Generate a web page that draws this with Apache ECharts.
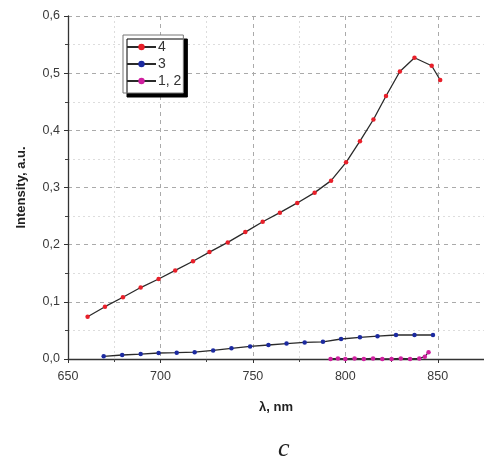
<!DOCTYPE html>
<html><head><meta charset="utf-8">
<script src="https://cdn.jsdelivr.net/npm/echarts@6/dist/echarts.min.js"></script>
<style>html,body{margin:0;padding:0;background:#fff}#c{width:484px;height:468px}</style>
</head><body><div id="c"></div>
<script>
const s4x = [660.6,670,679.7,689.3,699,708,717.6,726.5,736.4,745.9,755.3,764.6,774,783.4,792.3,800.4,807.9,815.2,822,829.5,837.4,846.7,851.3];
const s4y = [0.074,0.0915,0.108,0.125,0.140,0.155,0.171,0.187,0.204,0.222,0.240,0.256,0.273,0.291,0.312,0.344,0.381,0.419,0.460,0.503,0.527,0.513,0.488];
const s3x = [669.3,679.3,689.3,699,708.8,718.5,728.5,738.4,748.5,758.4,768.2,778,787.9,797.7,807.9,817.4,827.4,837.4,847.4];
const s3y = [0.0047,0.007,0.0087,0.0105,0.011,0.012,0.015,0.0187,0.022,0.0245,0.027,0.029,0.030,0.035,0.038,0.040,0.042,0.042,0.042];
const s12x = [792,796,800,805,810,815,820,825,830,835,840,843,845];
const s12y = [0.0,0.001,0.0,0.001,0.0,0.001,0.0,0.0,0.001,0.0,0.001,0.004,0.012];
const names = ['4','3','1, 2'];
const xTicks = {min:650, max:875, interval:50};
const yTicks = {min:0, max:0.6, interval:0.1};

const zip = (a,b)=>a.map((v,i)=>[v,b[i]]);
const chart = echarts.init(document.getElementById('c'));
const lbl = {color:'#3a3a3a', fontSize:12.5, fontFamily:'Liberation Sans, Arial'};
function ser(name, x, y, col){
  return {name, type:'line', data:zip(x,y), symbol:'circle', symbolSize:4.5,
    lineStyle:{color:'#2a2a2a', width:1.3}, itemStyle:{color:col}, z:3,
    emphasis:{disabled:true}};
}
chart.setOption({
  animation:false,
  grid:{left:68, right:-4, top:16, bottom:109},
  legend:{left:123, top:35, orient:'vertical', itemGap:3, itemWidth:29, itemHeight:8,
    padding:[5,2,5,3], backgroundColor:'#fff', borderColor:'#777', borderWidth:1,
    shadowColor:'#000', shadowOffsetX:4, shadowOffsetY:4, shadowBlur:0,
    textStyle:{fontSize:14, lineHeight:14, color:'#333', fontFamily:'Liberation Sans, Arial', padding:[0,0,0,-3]},
    data:names},
  xAxis:{type:'value', min:xTicks.min, max:xTicks.max, interval:xTicks.interval,
    name:'λ, nm', nameLocation:'middle', nameGap:42,
    nameTextStyle:{fontWeight:'bold', fontSize:13, color:'#222', fontFamily:'Liberation Sans, Arial'},
    axisLine:{show:true, onZero:false, lineStyle:{color:'#333', width:1.3}},
    axisTick:{show:true, length:4, lineStyle:{color:'#333'}},
    minorTick:{show:true, splitNumber:2, length:3, lineStyle:{color:'#444'}},
    axisLabel:{...lbl, margin:11, showMaxLabel:false},
    splitLine:{show:true, lineStyle:{color:'#aaa', type:[4,4], width:1}},
    minorSplitLine:{show:true, lineStyle:{color:'#ddd', type:[2,3], width:1}}},
  yAxis:{type:'value', min:yTicks.min, max:yTicks.max, interval:yTicks.interval,
    name:'Intensity, a.u.', nameLocation:'middle', nameGap:40,
    nameTextStyle:{fontWeight:'bold', fontSize:13, color:'#222', fontFamily:'Liberation Sans, Arial'},
    axisLine:{show:true, lineStyle:{color:'#333', width:1.3}},
    axisTick:{show:true, length:4, lineStyle:{color:'#333'}},
    minorTick:{show:true, splitNumber:2, length:3, lineStyle:{color:'#444'}},
    axisLabel:{...lbl, margin:8, formatter:v=>v.toFixed(1).replace('.',',')},
    splitLine:{show:true, lineStyle:{color:'#aaa', type:[4,4], width:1}},
    minorSplitLine:{show:true, lineStyle:{color:'#ddd', type:[2,3], width:1}}},
  graphic:[{type:'text', left:278, top:436, style:{text:'c', font:'italic 26px "Liberation Serif", serif', fill:'#222'}}],
  series:[ser(names[0], s4x, s4y, '#e8202a'), ser(names[1], s3x, s3y, '#1c2aa0'), ser(names[2], s12x, s12y, '#d020a0')]
});
</script></body></html>
